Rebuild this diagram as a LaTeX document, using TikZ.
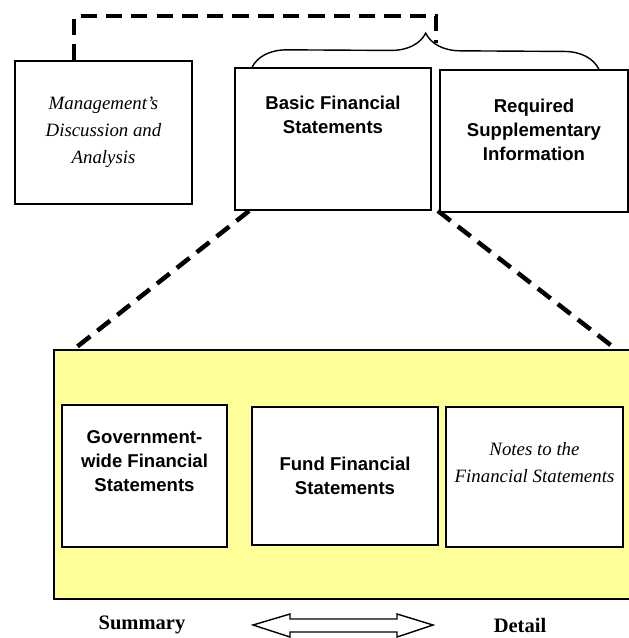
\documentclass[tikz,border=0pt]{standalone}
\usepackage{fontspec}
\setmainfont{Liberation Serif}
\setsansfont{Liberation Sans}
\usetikzlibrary{positioning, decorations.pathreplacing}
\definecolor{paneyellow}{RGB}{255, 255, 153}

\begin{document}
\begin{tikzpicture}[
  x=0.025cm, y=-0.025cm,
  box/.style={draw=black, line width=1.2pt, fill=white, inner sep=0pt},
  sanstext/.style={align=center, font=\sffamily\bfseries\fontsize{13.2pt}{17pt}\selectfont},
  scripttext/.style={align=center, font=\itshape\fontsize{13.4pt}{19.2pt}\selectfont},
  dashlink/.style={line width=3.2pt, dash pattern=on 11.5pt off 6.5pt},
]
\useasboundingbox (0,0) rectangle (629,638);

% Top row
\node[box, minimum width=4.425cm, minimum height=3.575cm] (mda) at (103.5, 132.5) {};
\node[box, minimum width=4.9cm, minimum height=3.55cm] (bfs) at (333, 139) {};
\node[box, minimum width=4.7cm, minimum height=3.55cm] (rsi) at (534, 141) {};
\node[scripttext] (mda-text) at (mda.center) {Management's\\Discussion and\\Analysis};
\node[sanstext] (bfs-text) at ([yshift=0.6cm]bfs.center) {Basic Financial\\Statements};
\node[sanstext] (rsi-text) at ([yshift=0.275cm]rsi.center) {Required\\Supplementary\\Information};

% Brace over BFS and RSI, linked to MD&A
\draw[line width=1pt, decorate, decoration={brace, amplitude=0.875cm}]
  ([xshift=0.45cm]bfs.north west) -- ([xshift=-0.75cm]rsi.north east);
\coordinate (join) at (436, 43);
\draw[dashlink] ([xshift=1.5cm]mda.north west) |- ([yshift=0.675cm]join) -- (join);

% Expanded basic statements
\node[box, fill=paneyellow, minimum width=14.65cm, minimum height=6.225cm] (pane) at (347, 474.5) {};
\draw[dashlink] ([xshift=0.375cm]bfs.south west) -- ([xshift=0.525cm]pane.north west);
\draw[dashlink] ([xshift=0.15cm]bfs.south east) -- ([xshift=-0.625cm]pane.north east);

\node[box, minimum width=4.125cm, minimum height=3.55cm] (gwfs) at (144.5, 476) {};
\node[box, minimum width=4.65cm, minimum height=3.45cm] (ffs) at (345, 476) {};
\node[box, minimum width=4.425cm, minimum height=3.5cm] (notes) at (534.5, 477) {};
\node[sanstext] (gwfs-text) at ([yshift=0.375cm]gwfs.center) {Government-\\wide Financial\\Statements};
\node[sanstext] (ffs-text) at (ffs.center) {Fund Financial\\Statements};
\node[scripttext] (notes-text) at ([yshift=0.35cm]notes.center) {Notes to the\\Financial Statements};

% Summary <-> Detail
\node[font=\bfseries\fontsize{14.6pt}{17pt}\selectfont] (summary) at (142, 625) {Summary};
\node[font=\bfseries\fontsize{14.6pt}{17pt}\selectfont] (detail) at (520, 625) {Detail};
\draw[line width=1pt, line join=miter, fill=white]
  (253,625) -- (290,614) -- (290,619) -- (397,619) -- (397,614) -- (433,625)
  -- (397,637) -- (397,632) -- (290,632) -- (290,637) -- cycle;
\end{tikzpicture}
\end{document}
